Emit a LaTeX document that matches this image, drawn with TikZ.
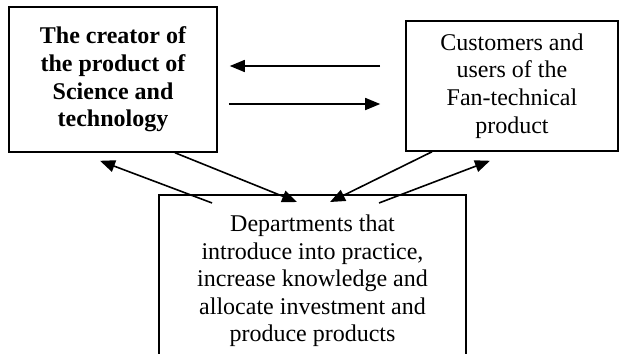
\documentclass[tikz,border=0pt]{standalone}
\usepackage{fontspec}
\setmainfont{Liberation Serif}
\usepackage{tikz}
\usetikzlibrary{arrows.meta, positioning}
\tikzset{
	boxnode/.style={
			draw=black,
			thick,
			fill=white,
			align=center,
			inner sep=0pt,
			font=\fontsize{12}{13.8}\selectfont
		},
	boldboxnode/.style={
			boxnode,
			font=\fontsize{12}{13.8}\selectfont\bfseries
		},
	linkarrow/.style={
			thick,
			-{Triangle[length=7.5pt,width=6pt]}
		}
}

\begin{document}
\begin{tikzpicture}
        \useasboundingbox (0,0) rectangle (10.878,6.221);
        \clip (0,0) rectangle (10.878,6.221);

        \node[boldboxnode, minimum width=3.655cm, minimum height=2.548cm] at (1.986,4.824) (creator)
            {The creator of\\the product of\\Science and\\technology};
        \node[boxnode, minimum width=3.725cm, minimum height=2.285cm] at (8.997,4.710) (customers)
            {Customers and\\users of the\\Fan-technical\\product};
        \node[boxnode, anchor=north, minimum width=5.395cm, inner ysep=10pt] at (5.492,2.812) (dept)
            {Departments that\\introduce into practice,\\increase knowledge and\\allocate investment and\\produce products};

        % the two arrows between the upper boxes
        \coordinate (up) at ([yshift=0.237cm]creator.east);
        \coordinate (down) at ([yshift=-0.431cm]creator.east);
        \draw[linkarrow, shorten <=0.439cm, shorten >=0.211cm] (up -| customers.west) -- (up);
        \draw[linkarrow, shorten <=0.193cm, shorten >=0.439cm] (down) -- (down -| customers.west);

        % arrows to and from the departments
        \draw[linkarrow] ([shift={(-1.766,-0.158)}]dept.north) -- ([shift={(-0.228,-0.141)}]creator.south);
        \draw[linkarrow] ([xshift=1.090cm]creator.south) -- ([shift={(-0.272,-0.141)}]dept.north);
        \draw[linkarrow] ([xshift=-1.406cm]customers.south) -- ([shift={(0.308,-0.141)}]dept.north);
        \draw[linkarrow] ([shift={(1.169,-0.158)}]dept.north) -- ([shift={(-0.387,-0.158)}]customers.south);
      \end{tikzpicture}
\end{document}
